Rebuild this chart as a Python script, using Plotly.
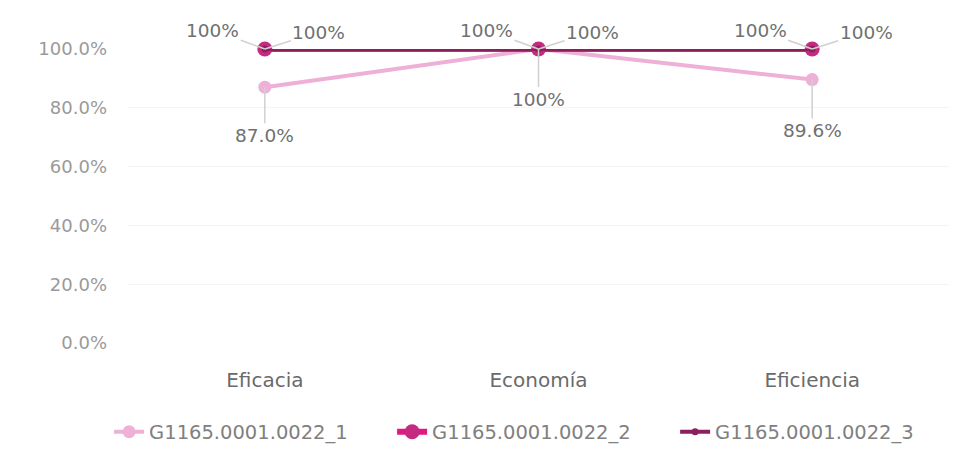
import plotly.graph_objects as go

categories = ["Eficacia", "Economía", "Eficiencia"]
series_names = ["G1165.0001.0022_1", "G1165.0001.0022_2", "G1165.0001.0022_3"]
s1 = [0.870, 1.0, 0.896]
s2 = [1.0, 1.0, 1.0]
s3 = [1.0, 1.0, 1.0]
s1_labels = ["87.0%", "100%", "89.6%"]
s2_labels = ["100%", "100%", "100%"]
s3_labels = ["100%", "100%", "100%"]
ytick_vals = [0, 0.2, 0.4, 0.6, 0.8, 1.0]
ytick_text = ["0.0%", "20.0%", "40.0%", "60.0%", "80.0%", "100.0%"]

c1, c2, c3 = "#eeb0d6", "#e0197f", "#8e1f5e"
font = "DejaVu Sans"

fig = go.Figure()
fig.add_trace(go.Scatter(x=categories, y=s1, name=series_names[0], mode="lines+markers",
                         line=dict(color=c1, width=4), marker=dict(size=13, color=c1),
                         cliponaxis=False))
fig.add_trace(go.Scatter(x=categories, y=s2, name=series_names[1], mode="lines+markers",
                         line=dict(color=c2, width=6), marker=dict(size=15, color="#c42a80"),
                         cliponaxis=False))
fig.add_trace(go.Scatter(x=categories, y=s3, name=series_names[2], mode="lines+markers",
                         line=dict(color=c3, width=4), marker=dict(size=7, color=c3),
                         cliponaxis=False))

ann_font = dict(family=font, size=18.5, color="#707070")
arrow = dict(showarrow=True, arrowhead=0, arrowwidth=1.5, arrowcolor="#d0d0d0")
below_offsets = [48, 50, 51]
for i, cat in enumerate(categories):
    fig.add_annotation(x=cat, y=s1[i], text=s1_labels[i], ax=0, ay=below_offsets[i],
                       font=ann_font, **arrow)
    fig.add_annotation(x=cat, y=s2[i], text=s2_labels[i], ax=-52, ay=-19,
                       font=ann_font, **arrow)
    fig.add_annotation(x=cat, y=s3[i], text=s3_labels[i], ax=54, ay=-17,
                       font=ann_font, **arrow)

fig.update_layout(
    width=961, height=463,
    margin=dict(l=120, r=20, t=41, b=128),
    paper_bgcolor="white", plot_bgcolor="white",
    font=dict(family=font, color="#777777"),
    showlegend=True,
    legend=dict(orientation="h", x=-0.023, xanchor="left", y=-0.303, yanchor="middle",
                font=dict(family=font, size=19.5, color="#808080"),
                entrywidth=238, entrywidthmode="pixels", tracegroupgap=0),
    xaxis=dict(type="category", range=[-0.5, 2.5], showgrid=False, zeroline=False,
               showline=False, ticks="", tickfont=dict(family=font, size=20, color="#6a6a6a"),
               ticklabelstandoff=23),
    yaxis=dict(range=[0, 1.0], tickvals=ytick_vals, ticktext=ytick_text,
               showgrid=True, gridcolor="#f4f4f4", gridwidth=1, zeroline=False,
               showline=False, tickfont=dict(family=font, size=18, color="#9a9a9a"),
               ticklabelstandoff=20),
)

fig.write_html("out.html")
